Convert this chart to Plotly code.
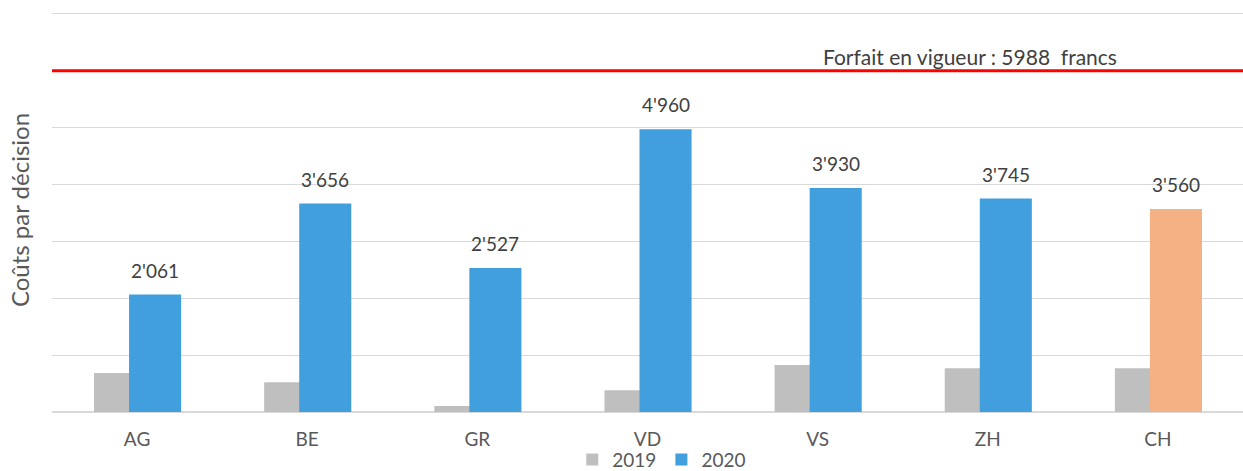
import plotly.graph_objects as go

# Cantons and cost per decision (francs)
cantons = ["AG", "BE", "GR", "VD", "VS", "ZH", "CH"]
costs_2019 = [684, 521, 105, 380, 825, 766, 766]
costs_2020 = [2061, 3656, 2527, 4960, 3930, 3745, 3560]
forfait = 5988

font_family = "Lato, 'Open Sans', sans-serif"
grey = "#bfbfbf"
blue = "#419fdd"
orange = "#f4b183"

x = list(range(len(cantons)))
bar_w = 0.306
colors_2020 = [blue] * (len(cantons) - 1) + [orange]

fig = go.Figure()
fig.add_trace(go.Bar(
    x=x, y=costs_2019, name="2019",
    width=bar_w, offset=-0.253,
    marker=dict(color=grey, line=dict(width=0)),
))
fig.add_trace(go.Bar(
    x=x, y=costs_2020, name="2020",
    width=bar_w, offset=-0.047,
    marker=dict(color=colors_2020, line=dict(width=0)),
))

# value labels over the 2020 bars
for xi, v in zip(x, costs_2020):
    label = f"{v:,}".replace(",", "'")
    fig.add_annotation(
        x=xi + 0.106, y=v, text=label, showarrow=False,
        yanchor="bottom", yshift=11,
        font=dict(family=font_family, size=19, color="#404040"),
    )

# flat-rate reference line
fig.add_shape(
    type="line", xref="paper", x0=0, x1=1, yref="y", y0=forfait, y1=forfait,
    line=dict(color="#ff0000", width=3),
)
fig.add_annotation(
    x=4.895, y=forfait, text=f"Forfait en vigueur : {forfait}  francs",
    showarrow=False, yanchor="bottom", yshift=0,
    font=dict(family=font_family, size=21, color="#404040"),
)

fig.update_layout(
    width=1243, height=471,
    margin=dict(l=52, r=0, t=8, b=59, autoexpand=False),
    paper_bgcolor="white", plot_bgcolor="white",
    barmode="overlay",
    showlegend=True,
    legend=dict(
        orientation="h", x=0.512, xanchor="center",
        y=-0.118, yanchor="middle",
        bgcolor="rgba(0,0,0,0)",
        font=dict(family=font_family, size=19, color="#595959"),
        itemwidth=30, tracegroupgap=0,
    ),
    xaxis=dict(
        range=[-0.5, 6.5], tickmode="array", tickvals=x, ticktext=cantons,
        showgrid=False, zeroline=False, showline=False, ticks="",
        ticklabelstandoff=14, automargin=False,
        tickfont=dict(family=font_family, size=19, color="#595959"),
    ),
    yaxis=dict(
        range=[0, 7088], dtick=1000, showticklabels=False, automargin=False,
        gridcolor="#d9d9d9", gridwidth=1, zeroline=True,
        zerolinecolor="#d9d9d9", zerolinewidth=2,
        title=dict(text="Coûts par décision", standoff=14,
                   font=dict(family=font_family, size=24, color="#595959")),
    ),
)

fig.write_html("out.html")
